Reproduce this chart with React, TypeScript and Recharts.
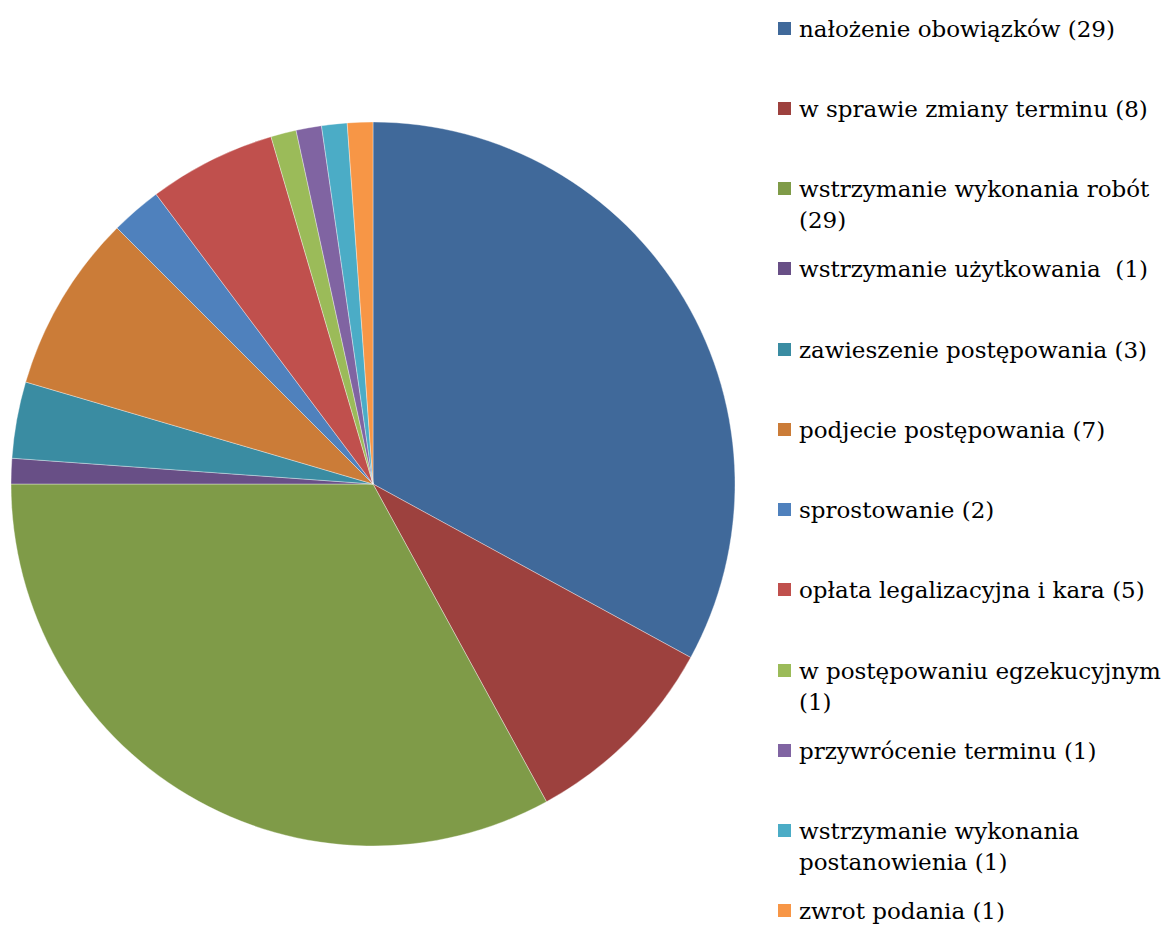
import { Legend, Pie, PieChart } from 'recharts';

const categories = [
  'nałożenie obowiązków',
  'w sprawie zmiany terminu',
  'wstrzymanie wykonania robót',
  'wstrzymanie użytkowania ',
  'zawieszenie postępowania',
  'podjecie postępowania',
  'sprostowanie',
  'opłata legalizacyjna i kara',
  'w postępowaniu egzekucyjnym',
  'przywrócenie terminu',
  'wstrzymanie wykonania postanowienia',
  'zwrot podania',
];
const counts = [29, 8, 29, 1, 3, 7, 2, 5, 1, 1, 1, 1];
const sliceColors = [
  '#40699A', '#9D413E', '#7F9B48', '#684F86', '#3A8CA2', '#CB7C38',
  '#4F81BD', '#C0504D', '#9BBB59', '#8064A2', '#4BACC6', '#F79646',
];

const pieData = categories.map((name, i) => ({
  name,
  value: counts[i],
  fill: sliceColors[i],
}));

// legend entries sit in fixed slots, like the office chart it came from
const SLOT = 80.25;
const serif = "'DejaVu Serif', serif";

const LegendList = () => (
  <div style={{ position: 'relative', width: 395, height: 927, fontFamily: serif }}>
    {pieData.map((d, i) => (
      <div
        key={i}
        style={{
          position: 'absolute',
          left: 0,
          top: 29 + i * SLOT - 15.5,
          width: 395,
          display: 'flex',
          alignItems: 'flex-start',
        }}
      >
        <div style={{ width: 13, height: 13, background: d.fill, marginTop: 8, marginRight: 8, flexShrink: 0 }} />
        <span
          style={{
            display: 'block',
            fontFamily: serif,
            fontSize: '23px',
            lineHeight: '31px',
            color: '#000',
            whiteSpace: 'pre-wrap',
            width: 373,
          }}
        >
          {`${d.name} (${d.value})`}
        </span>
      </div>
    ))}
  </div>
);

export default function App() {
  return (
    <div style={{ position: 'absolute', left: 0, top: 0, background: '#fff' }}>
      <PieChart width={1173} height={927} margin={{ top: 0, right: 0, bottom: 0, left: 0 }}>
        <Pie
          data={pieData}
          dataKey="value"
          nameKey="name"
          cx={373}
          cy={484}
          outerRadius={362}
          startAngle={90}
          endAngle={-270}
          stroke="#ffffff"
          strokeWidth={0.6}
          strokeOpacity={0.6}
          isAnimationActive={false}
        />
        <Legend
          layout="vertical"
          align="right"
          verticalAlign="top"
          content={() => <LegendList />}
          wrapperStyle={{ position: 'absolute', left: 778, top: 0, width: 395, fontFamily: serif }}
        />
      </PieChart>
    </div>
  );
}
